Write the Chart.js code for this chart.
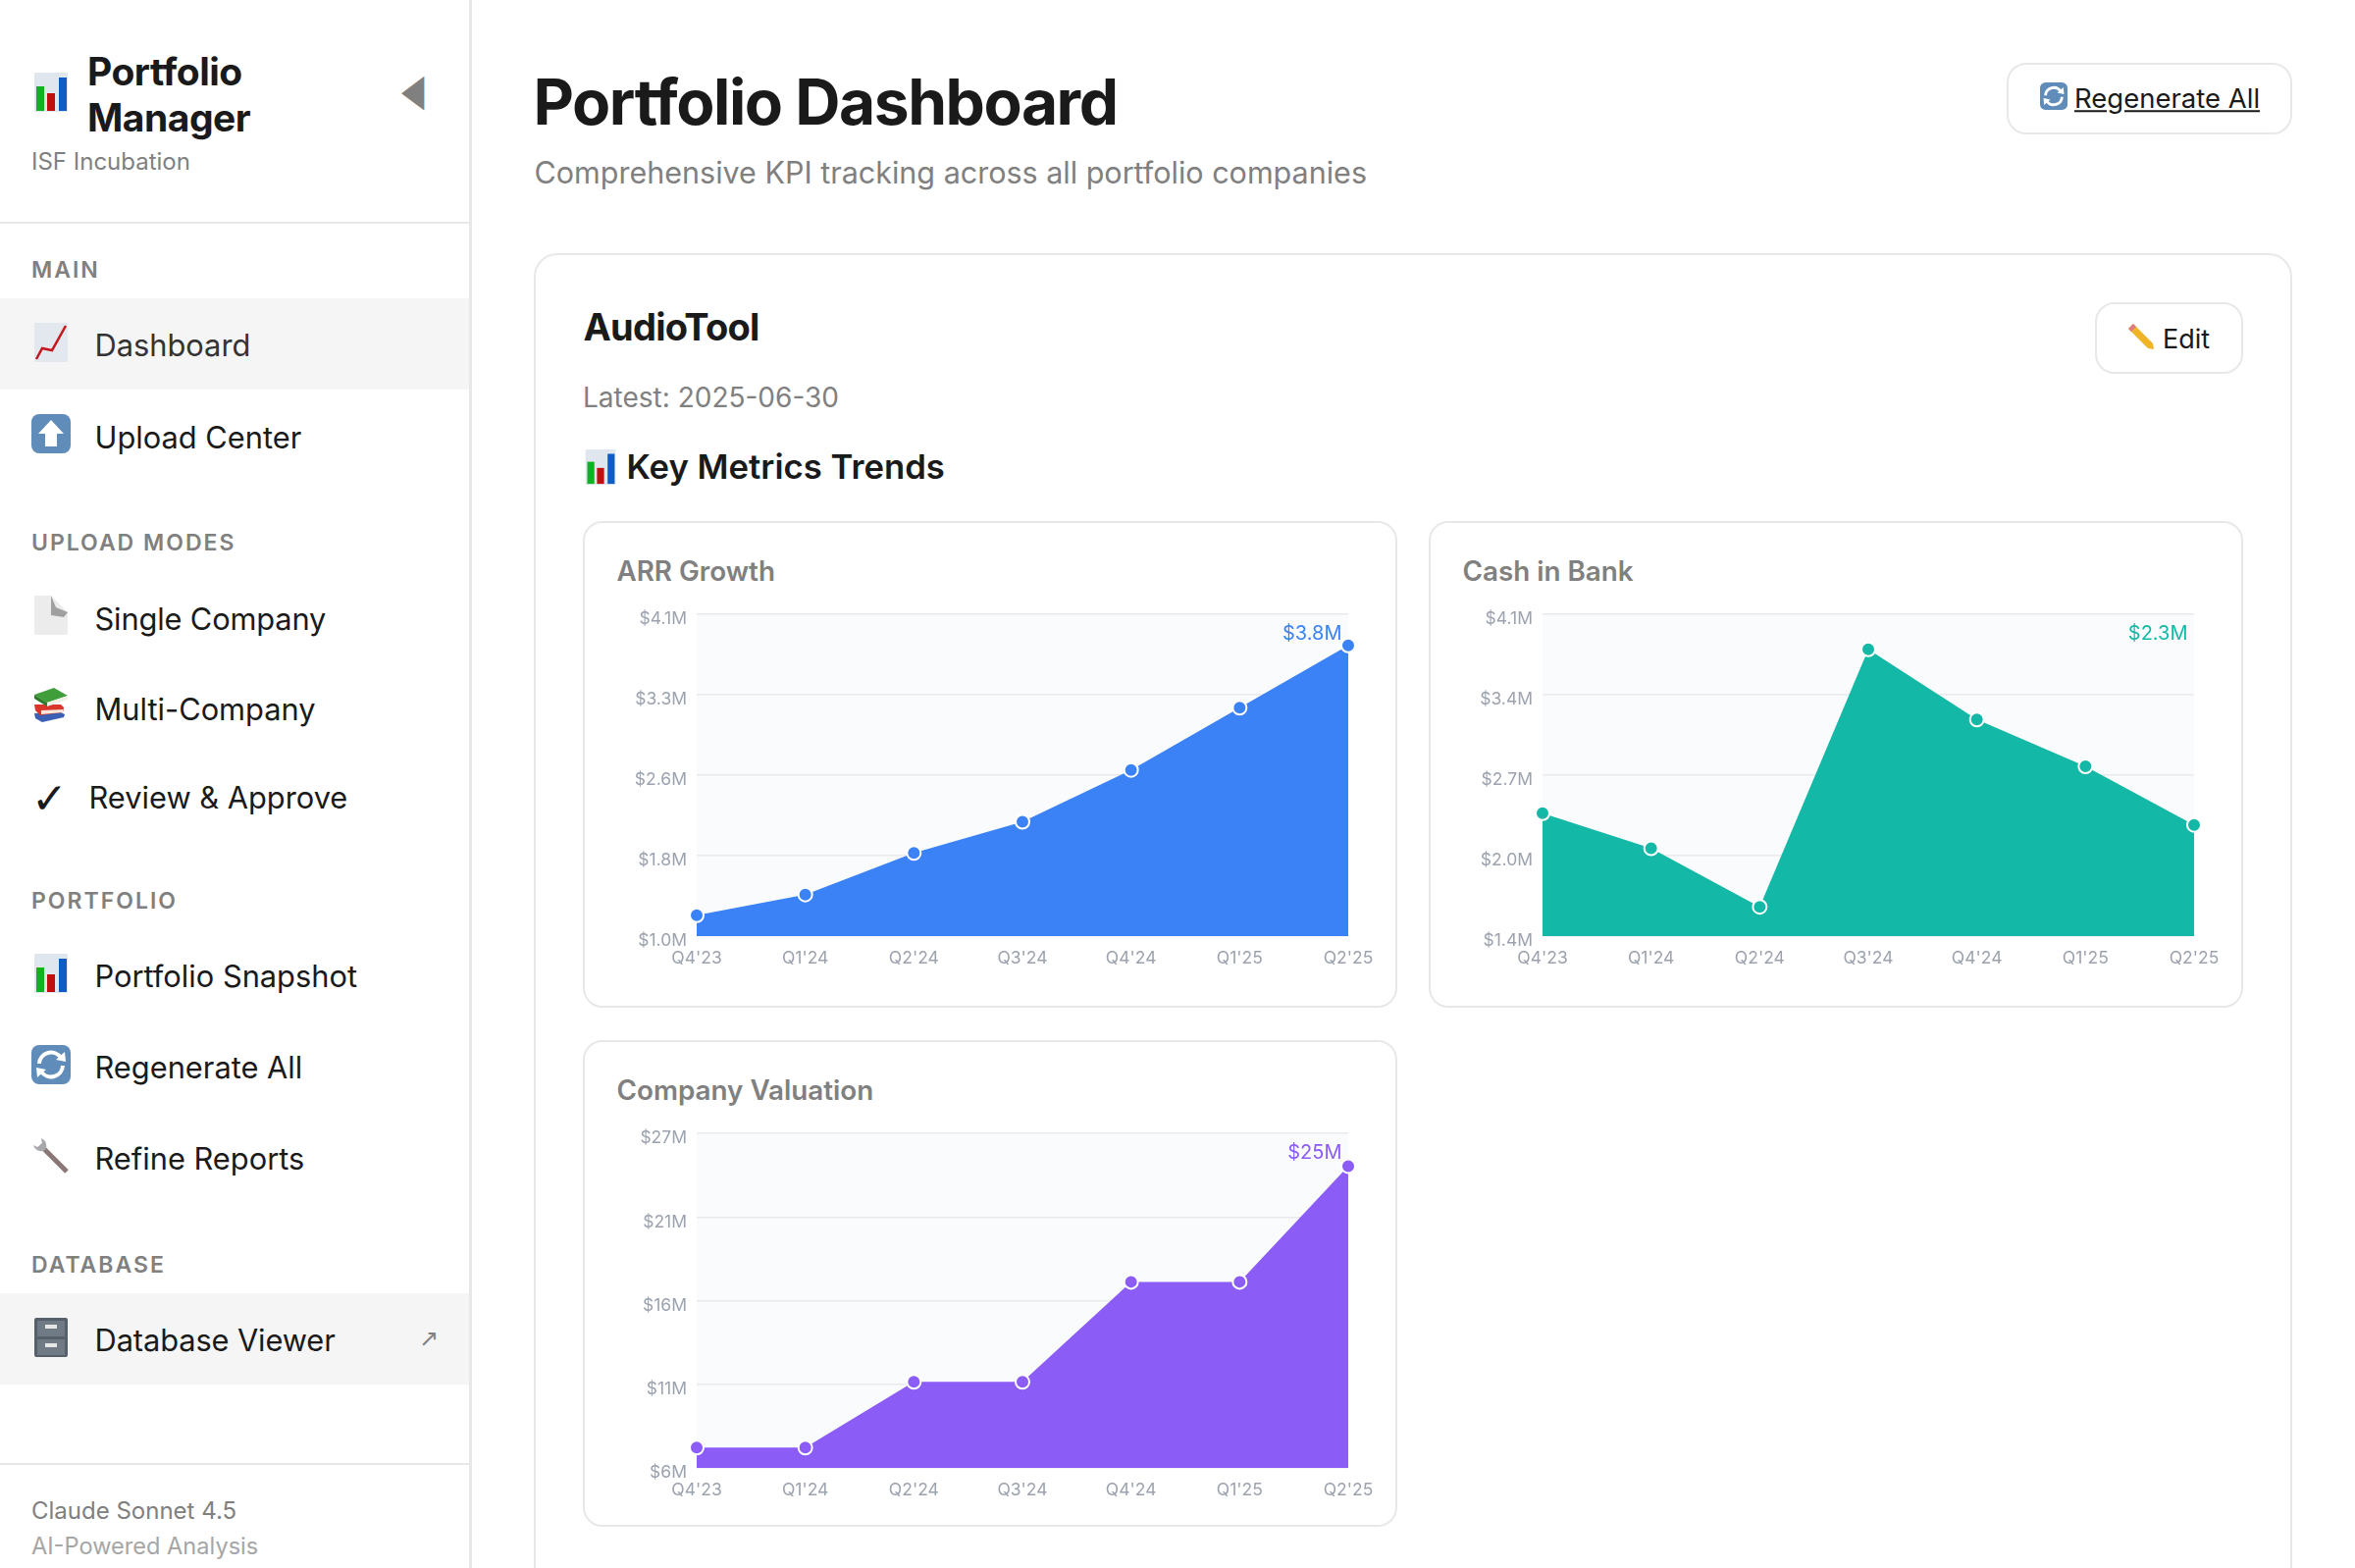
<!DOCTYPE html>
<html>
<head>
<meta charset="utf-8">
<title>Portfolio Dashboard</title>
<script src="https://cdn.jsdelivr.net/npm/chart.js@4"></script>
<style>
    * { box-sizing: border-box; margin: 0; padding: 0; }
    html, body { width: 2400px; height: 1598px; overflow: hidden; background: #fff; }
    body { position: relative; font-family: Inter, "Noto Sans", sans-serif; color: #1a1a1a; }
    .abs { position: absolute; white-space: nowrap; }
    .mid { transform: translateY(-50%); line-height: 1; }
    .nav { font-size: 30.8px; }
    .head { font-size: 23px; font-weight: 600; letter-spacing: 2px; color: #808080; }
    .box { position: absolute; border: 2.5px solid #e8e8e8; background: #fff; }
    .band { position: absolute; left: 0; width: 478px; background: #f5f5f5; }
    .rule { position: absolute; background: #e8e8e8; }
    .chart-title { font-size: 27.8px; font-weight: 600; color: #808080; }
    svg.icon { position: absolute; }
    canvas { position: absolute; }
</style>
</head>
<body>

<div class="rule" style="left:478px;top:0;width:3px;height:1598px"></div>
<div class="rule" style="left:0;top:226px;width:478px;height:2px"></div>
<div class="rule" style="left:0;top:1491px;width:478px;height:2px"></div>

<svg class="icon" style="left:35px;top:74px" width="34" height="40" viewBox="0 0 34 40"><use href="#bars"/></svg>
<div class="abs" style="left:89px;top:49px;font-size:39px;font-weight:700;line-height:47px;letter-spacing:-0.5px">Portfolio<br>Manager</div>
<div class="abs mid" style="left:32px;top:165px;font-size:24px;color:#808080">ISF Incubation</div>
<div class="abs mid" style="left:406px;top:91px;font-size:38px;color:#808080;font-family:'DejaVu Sans';transform:translateY(-50%) scale(0.8,1.2)">◀</div>

<div class="abs mid head" style="left:32px;top:275px">MAIN</div>
<div class="band" style="top:304px;height:93px"></div>
<svg class="icon" style="left:35px;top:329px" width="34" height="40" viewBox="0 0 34 40"><use href="#trend"/></svg>
<div class="abs mid nav" style="left:96.5px;top:352px;color:#333">Dashboard</div>
<svg class="icon" style="left:32px;top:422px" width="40" height="40" viewBox="0 0 40 40"><use href="#upload"/></svg>
<div class="abs mid nav" style="left:96.5px;top:445.5px">Upload Center</div>

<div class="abs mid head" style="left:32px;top:553px">UPLOAD MODES</div>
<svg class="icon" style="left:35px;top:607px" width="34" height="40" viewBox="0 0 34 40"><use href="#doc"/></svg>
<div class="abs mid nav" style="left:96.5px;top:630.5px;letter-spacing:-0.15px">Single Company</div>
<svg class="icon" style="left:34px;top:701px" width="36" height="36" viewBox="0 0 36 36"><use href="#books"/></svg>
<div class="abs mid nav" style="left:96.5px;top:723px">Multi-Company</div>
<div class="abs mid" style="left:32px;top:814px;font-size:44px;font-family:'DejaVu Sans'">✓</div>
<div class="abs mid nav" style="left:90.5px;top:813px">Review &amp; Approve</div>

<div class="abs mid head" style="left:32px;top:917.5px">PORTFOLIO</div>
<svg class="icon" style="left:35px;top:972px" width="34" height="40" viewBox="0 0 34 40"><use href="#bars"/></svg>
<div class="abs mid nav" style="left:96.5px;top:995px">Portfolio Snapshot</div>
<svg class="icon" style="left:32px;top:1065px" width="40" height="40" viewBox="0 0 40 40"><use href="#refresh"/></svg>
<div class="abs mid nav" style="left:96.5px;top:1088px">Regenerate All</div>
<svg class="icon" style="left:32px;top:1158px" width="40" height="40" viewBox="0 0 40 40"><use href="#wrench"/></svg>
<div class="abs mid nav" style="left:96.5px;top:1181px">Refine Reports</div>

<div class="abs mid head" style="left:32px;top:1289px">DATABASE</div>
<div class="band" style="top:1318px;height:93px"></div>
<svg class="icon" style="left:35px;top:1343px" width="34" height="40" viewBox="0 0 34 40"><use href="#cabinet"/></svg>
<div class="abs mid nav" style="left:96.5px;top:1366px;letter-spacing:-0.1px">Database Viewer</div>
<div class="abs mid" style="left:427px;top:1364px;font-size:24px;color:#808080;font-family:'DejaVu Sans'">↗</div>

<div class="abs mid" style="left:32px;top:1540px;font-size:24px;color:#808080">Claude Sonnet 4.5</div>
<div class="abs mid" style="left:32px;top:1576px;font-size:23.6px;color:#a6a6a6">AI-Powered Analysis</div>

<div class="abs mid" style="left:543.5px;top:104px;font-size:64px;font-weight:700;letter-spacing:-1.45px">Portfolio Dashboard</div>
<div class="abs mid" style="left:544.5px;top:176px;font-size:30.5px;color:#808080">Comprehensive KPI tracking across all portfolio companies</div>

<div class="box" style="left:2045px;top:64px;width:291px;height:73px;border-radius:20px"></div>
<svg class="icon" style="left:2079px;top:84px" width="28" height="28" viewBox="0 0 40 40"><use href="#refresh"/></svg>
<div class="abs mid" style="left:2078px;top:100.5px;font-size:27.5px;text-decoration:underline"><span style="display:inline-block;width:36px"></span>Regenerate All</div>

<div class="box" style="left:544px;top:258px;width:1792px;height:1400px;border-radius:24px"></div>
<div class="abs mid" style="left:594.5px;top:333px;font-size:38px;font-weight:700;letter-spacing:-0.75px">AudioTool</div>
<div class="box" style="left:2135px;top:308px;width:151px;height:73px;border-radius:20px"></div>
<svg class="icon" style="left:2168px;top:329px" width="28" height="28" viewBox="0 0 28 28"><use href="#pencil"/></svg>
<div class="abs mid" style="left:2204px;top:344.5px;font-size:27px">Edit</div>
<div class="abs mid" style="left:594px;top:404.5px;font-size:28px;color:#808080">Latest: 2025-06-30</div>
<svg class="icon" style="left:596px;top:458px" width="32" height="36" viewBox="0 0 34 40"><use href="#bars"/></svg>
<div class="abs mid" style="left:638.5px;top:475px;font-size:34.7px;font-weight:600">Key Metrics Trends</div>

<div class="box" style="left:594px;top:531px;width:830px;height:496px;border-radius:20px"></div>
<div class="abs mid chart-title" style="left:628.5px;top:583px">ARR Growth</div>
<canvas id="arrChart" style="left:600px;top:600px"></canvas>

<div class="box" style="left:1456px;top:531px;width:830px;height:496px;border-radius:20px"></div>
<div class="abs mid chart-title" style="left:1490.5px;top:583px">Cash in Bank</div>
<canvas id="cashChart" style="left:1462px;top:600px"></canvas>

<div class="box" style="left:594px;top:1060px;width:830px;height:496px;border-radius:20px"></div>
<div class="abs mid chart-title" style="left:628.5px;top:1112px">Company Valuation</div>
<canvas id="valuationChart" style="left:600px;top:1129px"></canvas>

<!-- stand-ins for the emoji glyphs, no colour emoji font here -->
<svg width="0" height="0" style="position:absolute">
    <defs>
        <g id="bars">
            <rect width="34" height="40" fill="#dfe6ee"/>
            <rect x="2" y="14" width="8" height="25" fill="#0fb31f"/>
            <rect x="13" y="21" width="8" height="18" fill="#c00f0f"/>
            <rect x="25" y="5" width="8" height="34" fill="#0f5cc4"/>
        </g>
        <g id="trend">
            <rect width="34" height="40" fill="#e3e8ee"/>
            <path d="M2 37 L8 26 L18 28 L32 3" fill="none" stroke="#c4161c" stroke-width="2.5"/>
        </g>
        <g id="upload">
            <rect width="40" height="40" rx="8" fill="#5f8cb8"/>
            <path d="M20 6 L33 20 L26 20 L26 33 L14 33 L14 20 L7 20 Z" fill="#fff"/>
        </g>
        <g id="refresh">
            <rect width="40" height="40" rx="8" fill="#5f8cb8"/>
            <path d="M8 19 A12 12 0 0 1 30 13" fill="none" stroke="#fff" stroke-width="4"/>
            <path d="M32 21 A12 12 0 0 1 10 27" fill="none" stroke="#fff" stroke-width="4"/>
            <path d="M25 15 L35 17 L34 7 Z M15 25 L5 23 L6 33 Z" fill="#fff"/>
        </g>
        <g id="doc">
            <path d="M0 0 L17 0 L34 17 L34 40 L0 40 Z" fill="#ececec"/>
            <path d="M17 0 L22 12 L34 17 L30 22 L17 20 Z" fill="#a0a0a0"/>
        </g>
        <g id="books">
            <path d="M1 26 L26 24 L32 27 L31 30 L9 35 L2 31 Z" fill="#3a5fb5"/>
            <path d="M1 17 L28 17 L31 20 L30 25 L7 28 L2 23 Z" fill="#d9352a"/>
            <path d="M8 23 L30 22 L30 25 L8 27 Z" fill="#f3e6da"/>
            <path d="M1 7 L21 0 L35 8 L14 15 Z" fill="#3f9d3a"/>
            <path d="M1 7 L14 15 L14 19 L1 11 Z" fill="#2f7d2c"/>
            <path d="M14 15 L35 8 L35 12 L14 19 Z" fill="#eef0e6"/>
        </g>
        <g id="wrench">
            <path d="M9 9 L36 36" stroke="#8a7676" stroke-width="5"/>
            <path d="M2 9 A8 8 0 0 0 14 14 A8 8 0 0 0 10 2 L11 8 L6 11 Z" fill="#a8a8ad"/>
        </g>
        <g id="cabinet">
            <rect width="34" height="40" rx="2" fill="#56606b"/>
            <rect x="3" y="3" width="28" height="16" fill="#707a85"/>
            <rect x="3" y="22" width="28" height="16" fill="#707a85"/>
            <rect x="11" y="7" width="12" height="4" fill="#e6e6e6"/>
            <rect x="11" y="26" width="12" height="4" fill="#e6e6e6"/>
        </g>
        <g id="pencil">
            <path d="M1 6 L6 1 L26 21 L27 27 L21 26 Z" fill="#f0b429"/>
            <path d="M1 6 L6 1 L9 4 L4 9 Z" fill="#e07b80"/>
        </g>
    </defs>
</svg>

<script>
const quarters = ["Q4'23", "Q1'24", "Q2'24", "Q3'24", "Q4'24", "Q1'25", "Q2'25"];

// $M
const arrValues = [1.2, 1.4, 1.8, 2.1, 2.6, 3.2, 3.8];
const cashValues = [2.4, 2.1, 1.6, 3.8, 3.2, 2.8, 2.3];
const valuationValues = [7, 7, 11.2, 11.2, 17.6, 17.6, 25];

const arrTicks = ["$1.0M", "$1.8M", "$2.6M", "$3.3M", "$4.1M"];
const cashTicks = ["$1.4M", "$2.0M", "$2.7M", "$3.4M", "$4.1M"];
const valuationTicks = ["$6M", "$11M", "$16M", "$21M", "$27M"];

const arrRange = [1.0, 4.1];
const cashRange = [1.35, 4.1];
const valuationRange = [5.7, 27.1];

const arrLatest = "$3.8M";
const cashLatest = "$2.3M";
const valuationLatest = "$25M";

const FONT = "Inter, 'Noto Sans', sans-serif";

// pale panel behind the plot and the latest value in its top right corner
const panelPlugin = {
    id: "panel",
    beforeDraw(chart) {
        const a = chart.chartArea;
        chart.ctx.save();
        chart.ctx.fillStyle = "#fafbfd";
        chart.ctx.fillRect(a.left, a.top, a.right - a.left, a.bottom - a.top);
        chart.ctx.restore();
    },
    afterDatasetsDraw(chart, args, opts) {
        const a = chart.chartArea;
        const ctx = chart.ctx;
        ctx.save();
        ctx.font = "20px " + FONT;
        ctx.fillStyle = opts.color;
        ctx.textAlign = "right";
        ctx.textBaseline = "middle";
        ctx.fillText(opts.text, a.right - 6.5, a.top + 19.5);
        ctx.restore();
    }
};

function drawChart(id, values, ticks, range, latest, color, plotHeight) {
    const canvas = document.getElementById(id);
    canvas.width = 818;
    canvas.height = 422;
    canvas.style.width = "818px";
    canvas.style.height = "422px";

    new Chart(canvas.getContext("2d"), {
        type: "line",
        data: {
            labels: quarters,
            datasets: [{
                data: values,
                fill: "start",
                backgroundColor: color,
                borderWidth: 0,
                tension: 0,
                clip: false,
                pointRadius: 7,
                pointBorderWidth: 2,
                pointBackgroundColor: color,
                pointBorderColor: "#ffffff"
            }]
        },
        options: {
            responsive: false,
            animation: false,
            devicePixelRatio: 1,
            layout: { padding: { top: 26, right: 44, left: 0, bottom: 0 } },
            plugins: {
                legend: { display: false },
                tooltip: { enabled: false },
                panel: { text: latest, color: color }
            },
            scales: {
                x: {
                    offset: false,
                    grid: { display: false },
                    border: { display: false },
                    afterFit(scale) {
                        scale.paddingLeft = 0;
                        scale.paddingRight = 0;
                        scale.height = 422 - 26 - plotHeight;
                    },
                    ticks: {
                        autoSkip: false,
                        maxRotation: 0,
                        minRotation: 0,
                        padding: 4,
                        color: "#9ca3af",
                        font: { family: FONT, size: 17.5 }
                    }
                },
                y: {
                    min: range[0],
                    max: range[1],
                    grid: { color: "#e9e9ee", lineWidth: 1.5, drawTicks: false },
                    border: { display: false },
                    afterFit(scale) {
                        scale.paddingTop = 0;
                        scale.paddingBottom = 0;
                        scale.width = 110;
                    },
                    ticks: {
                        count: 5,
                        autoSkip: false,
                        padding: 10,
                        labelOffset: 5,
                        color: "#9ca3af",
                        font: { family: FONT, size: 17.5 },
                        callback: (value, i) => ticks[i]
                    }
                }
            }
        },
        plugins: [panelPlugin]
    });
}

drawChart("arrChart", arrValues, arrTicks, arrRange, arrLatest, "#3b82f6", 328);
drawChart("cashChart", cashValues, cashTicks, cashRange, cashLatest, "#14b8a6", 328);
drawChart("valuationChart", valuationValues, valuationTicks, valuationRange, valuationLatest, "#8b5cf6", 341);
</script>
</body>
</html>
